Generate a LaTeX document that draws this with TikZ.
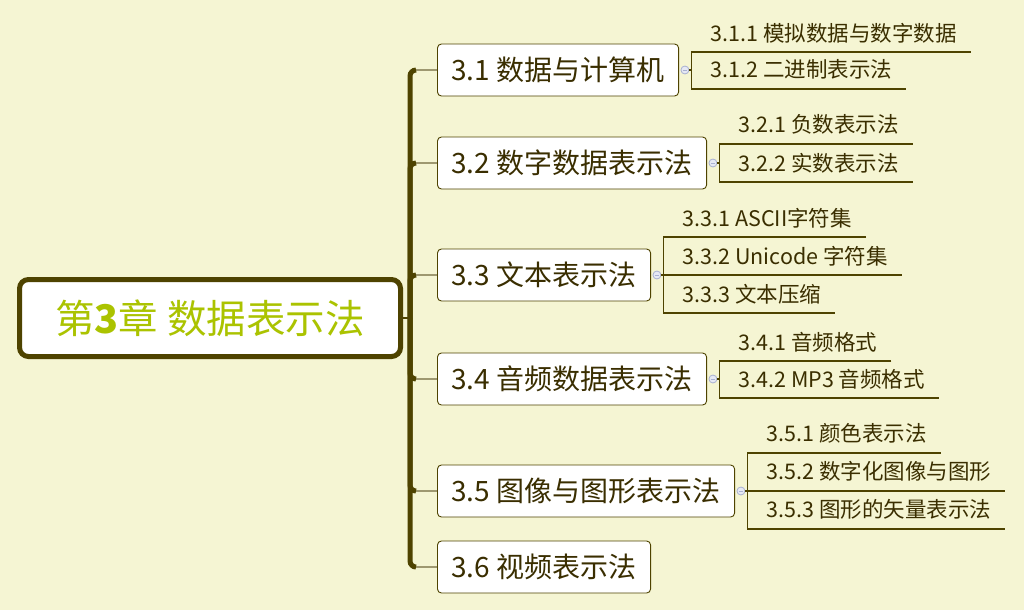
\documentclass[tikz,border=0pt]{standalone}
\usepackage{fontspec}
\newfontfamily\cjk{Noto Sans CJK SC}
\usetikzlibrary{positioning,calc}
\definecolor{mapbg}{HTML}{F5F5D3}
\definecolor{mapdark}{HTML}{4E4300}
\definecolor{maplight}{HTML}{9E9870}
\definecolor{maptitle}{HTML}{ABC300}
\definecolor{maptext}{HTML}{3A2E00}
\definecolor{foldfill}{HTML}{E6E9F4}
\definecolor{folddraw}{HTML}{A9B1D2}

\begin{document}
\begin{tikzpicture}[x=1pt, y=-1pt, node distance=1.5pt,
  root/.style={draw=mapdark, line width=5pt, rounded corners=9pt, fill=white,
    minimum width=381pt, minimum height=77pt, text=maptitle,
    font=\cjk\fontsize{39.5}{42}\selectfont},
  topic/.style={draw=mapdark, line width=0.9pt, rounded corners=4pt, fill=white,
    anchor=west, minimum height=52pt, inner xsep=14pt, text=maptext,
    font=\cjk\fontsize{28}{30}\selectfont},
  sub/.style={anchor=south west, inner xsep=14pt, inner ysep=0pt,
    minimum height=38pt, text=maptext, font=\cjk\fontsize{21.5}{23}\selectfont},
  fold/.style={circle, draw=folddraw, fill=foldfill, minimum size=8pt,
    inner sep=0pt, line width=0.8pt,
    path picture={\draw[folddraw, line width=0.8pt]
      ([xshift=-2.2pt]path picture bounding box.center) --
      ([xshift=2.2pt]path picture bounding box.center);}},
  trunk/.style={draw=mapdark, line width=5pt, rounded corners=6pt},
  branch/.style={draw=maplight, line width=2.2pt},
  subline/.style={draw=mapdark, line width=1.1pt}]
\fill[mapbg] (0,0) rectangle (1024,610);
\useasboundingbox (0,0) rectangle (1024,610);

% central topic and main topics
\node[root] (root) at (210,318) {第\textbf{3}章 数据表示法};
\coordinate (hub) at (410,318);
\node[topic] (t31) at (437,70) {3.1 数据与计算机};
\node[topic] (t32) at (437,163) {3.2 数字数据表示法};
\node[topic] (t33) at (437,275) {3.3 文本表示法};
\node[topic] (t34) at (437,379) {3.4 音频数据表示法};
\node[topic] (t35) at (437,491) {3.5 图像与图形表示法};
\node[topic] (t36) at (437,567) {3.6 视频表示法};

\draw[subline] (root) -- (hub);
\foreach \t in {t31,t32,t33,t34,t35,t36} {
  \draw[branch] ([xshift=-22pt]\t.west) -- (\t.west);
  \draw[trunk] (hub) |- ([xshift=-21pt]\t.west);
}

% 3.1
\node[fold, right=of t31] (f31) {};
\coordinate[right=2pt of f31] (k31);
\node[sub] (s311) at ([shift={(5,-18)}]k31) {3.1.1 模拟数据与数字数据};
\node[sub] (s312) at ([shift={(5,19)}]k31) {3.1.2 二进制表示法};
\draw[subline] (f31) -- (k31);
\draw[subline] (s311.south east) -- (s311.south west) -- ++(-5,0)
  |- (s312.south east);

% 3.2
\node[fold, right=of t32] (f32) {};
\coordinate[right=2pt of f32] (k32);
\node[sub] (s321) at ([shift={(5,-19)}]k32) {3.2.1 负数表示法};
\node[sub] (s322) at ([shift={(5,19)}]k32) {3.2.2 实数表示法};
\draw[subline] (f32) -- (k32);
\draw[subline] (s321.south east) -- (s321.south west) -- ++(-5,0)
  |- (s322.south east);

% 3.3
\node[fold, right=of t33] (f33) {};
\coordinate[right=2pt of f33] (k33);
\node[sub] (s331) at ([shift={(5,-38)}]k33) {3.3.1 ASCII字符集};
\node[sub] (s332) at ([shift={(5,0)}]k33) {3.3.2 Unicode 字符集};
\node[sub] (s333) at ([shift={(5,38)}]k33) {3.3.3 文本压缩};
\draw[subline] (f33) -- (s332.south east);
\draw[subline] (s331.south east) -- (s331.south west) -- ++(-5,0)
  |- (s333.south east);

% 3.4
\node[fold, right=of t34] (f34) {};
\coordinate[right=2pt of f34] (k34);
\node[sub] (s341) at ([shift={(5,-18)}]k34) {3.4.1 音频格式};
\node[sub] (s342) at ([shift={(5,19)}]k34) {3.4.2 MP3 音频格式};
\draw[subline] (f34) -- (k34);
\draw[subline] (s341.south east) -- (s341.south west) -- ++(-5,0)
  |- (s342.south east);

% 3.5
\node[fold, right=of t35] (f35) {};
\coordinate[right=2pt of f35] (k35);
\node[sub] (s351) at ([shift={(5,-38)}]k35) {3.5.1 颜色表示法};
\node[sub] (s352) at ([shift={(5,0)}]k35) {3.5.2 数字化图像与图形};
\node[sub] (s353) at ([shift={(5,38)}]k35) {3.5.3 图形的矢量表示法};
\draw[subline] (f35) -- (s352.south east);
\draw[subline] (s351.south east) -- (s351.south west) -- ++(-5,0)
  |- (s353.south east);
\end{tikzpicture}
\end{document}
